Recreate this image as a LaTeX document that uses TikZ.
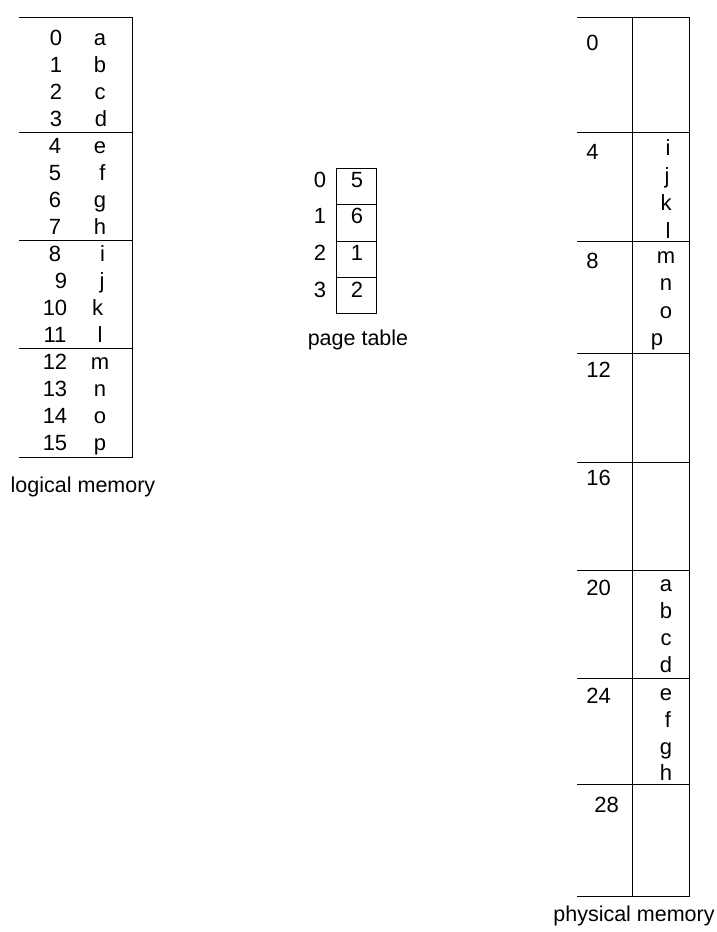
\documentclass[tikz,border=0pt]{standalone}
\usepackage{fontspec}
\setmainfont{Liberation Sans}
\begin{document}
\begin{tikzpicture}[x=1pt,y=-1pt,line width=0.9pt,
  txt/.style={font=\fontsize{22}{26}\selectfont,inner sep=0pt,anchor=base},
  addr/.style={txt,anchor=base west},
  lbl/.style={font=\fontsize{21.5}{26}\selectfont,inner sep=0pt,anchor=base}]
\useasboundingbox (0,0) rectangle (716,932);

% ---------- logical memory ----------
\coordinate (lmTL) at (19,17);
\coordinate (lmTR) at (132,17);
\coordinate (lmBR) at (132,457);
\coordinate (lmBL) at (19,457);
\draw (lmTL) -- (lmTR) -- (lmBR) -- (lmBL);
\foreach \y [count=\i] in {132,240,348}{
  \coordinate (lmS\i a) at (19,\y);
  \coordinate (lmS\i b) at (132,\y);
  \draw (lmS\i a) -- (lmS\i b);
}
\foreach \n/\c/\xn/\xc in {0/a/56/100,1/b/56/100,2/c/56/100,3/d/56/101,
  4/e/55/100,5/f/55/102.5,6/g/55/100,7/h/55/100,
  8/i/55/102.5,9/j/61/102,10/k/55/97.5,11/l/55/100,
  12/m/55/100,13/n/55/100,14/o/55/100,15/p/55/100}{
  \node[txt] (ln\n) at (\xn,{45+27*\n}) {\n};
  \node[txt] (lc\n) at (\xc,{45+27*\n}) {\c};
}
\node[lbl] (lmlabel) at (83,492) {logical memory};

% ---------- page table ----------
\coordinate (ptTL) at (336,168);
\coordinate (ptBR) at (376,313);
\draw (ptTL) rectangle (ptBR);
\foreach \y [count=\i] in {204,241,277}{
  \coordinate (ptS\i a) at (336,\y);
  \coordinate (ptS\i b) at (376,\y);
  \draw (ptS\i a) -- (ptS\i b);
}
\foreach \n/\v/\y in {0/5/187,1/6/223,2/1/260,3/2/297}{
  \node[txt] (pi\n) at (320,\y) {\n};
  \node[txt] (pv\n) at (357,\y) {\v};
}
\node[lbl] (ptlabel) at (358,345) {page table};

% ---------- physical memory ----------
\coordinate (pmTL) at (577,17);
\coordinate (pmTR) at (689,17);
\coordinate (pmBR) at (689,896);
\coordinate (pmBL) at (577,896);
\coordinate (pmMT) at (632,17);
\coordinate (pmMB) at (632,896);
\draw (pmTL) -- (pmTR) -- (pmBR) -- (pmBL);
\draw (pmMT) -- (pmMB);
\foreach \y [count=\i] in {132,241,353,462,570,678,784}{
  \coordinate (pmS\i a) at (577,\y);
  \coordinate (pmS\i b) at (689,\y);
  \draw (pmS\i a) -- (pmS\i b);
}
\foreach \t/\x/\y in {0/586/50,4/586/159,8/586/268,12/586/377,16/586/485,
  20/586/595,24/586/703,28/594/812}{
  \node[addr] (pa\t) at (\x,\y) {\t};
}
\foreach \c/\x/\y in {i/668/155,j/667/183,k/666/210,l/668/238,
  m/666/263,n/666/290,o/666/318,p/657/345,
  a/666/591,b/666/618,c/666/645,d/666/672,
  e/666/700,f/668/727,g/666/754,h/666/780}{
  \node[txt] (pc\c) at (\x,\y) {\c};
}
\node[lbl] (pmlabel) at (634,921) {physical memory};
\end{tikzpicture}
\end{document}
